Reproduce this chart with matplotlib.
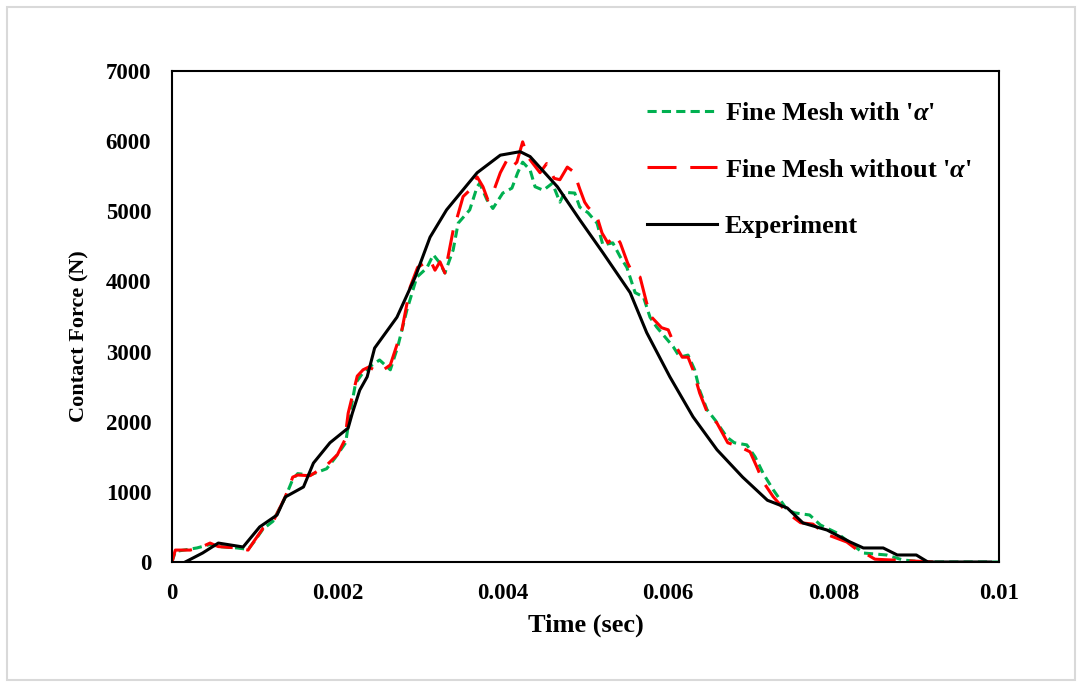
import matplotlib
matplotlib.use("Agg")
import matplotlib.pyplot as plt
from matplotlib.patches import Rectangle

# time (sec), contact force (N)
t_exp = [0.00016, 0.00037, 0.00056, 0.00086, 0.00106, 0.00127, 0.00137, 0.00159, 0.00171,
         0.00191, 0.00213, 0.00218, 0.00227, 0.00236, 0.00245, 0.00272, 0.00294, 0.00312,
         0.00332, 0.00369, 0.00397, 0.00421, 0.00433, 0.00466, 0.00493, 0.00521, 0.00554,
         0.00574, 0.00602, 0.0063, 0.00659, 0.0069, 0.0072, 0.00744, 0.00763, 0.00792,
         0.0082, 0.00836, 0.0086, 0.00877, 0.009, 0.00914, 0.0099]
f_exp = [0, 128, 270, 214, 500, 670, 927, 1070, 1410,
         1700, 1910, 2120, 2450, 2640, 3050, 3490, 4060, 4630,
         5020, 5550, 5800, 5850, 5780, 5350, 4880, 4410, 3840,
         3270, 2640, 2070, 1600, 1210, 880, 770, 556, 456,
         285, 200, 200, 100, 100, 0, 0]

t_no_alpha = [0, 0.00004, 0.00022, 0.00035, 0.00046, 0.00056, 0.00079, 0.00092, 0.001, 0.0011,
              0.00122, 0.00137, 0.00146, 0.00152, 0.00167, 0.00187, 0.002, 0.00209, 0.00213,
              0.00219, 0.00224, 0.00231, 0.00238, 0.00251, 0.00264, 0.00278, 0.00288, 0.00297,
              0.00312, 0.00318, 0.00324, 0.0033, 0.0034, 0.00345, 0.00352, 0.0036, 0.00369,
              0.00376, 0.00382, 0.00388, 0.00397, 0.00405, 0.00411, 0.00417, 0.00424, 0.0043,
              0.00445, 0.00453, 0.00462, 0.00469, 0.00478, 0.00486, 0.00493, 0.00499, 0.00503,
              0.00514, 0.0052, 0.00527, 0.00536, 0.00542, 0.00551, 0.00557, 0.00566, 0.00574,
              0.0058, 0.00592, 0.006, 0.00606, 0.00617, 0.00624, 0.0063, 0.00638, 0.00647,
              0.00659, 0.00672, 0.00687, 0.00699, 0.00707, 0.00715, 0.00727, 0.00744, 0.0076,
              0.00775, 0.0079, 0.00816, 0.00832, 0.0084, 0.0085, 0.0092]
f_no_alpha = [0, 170, 170, 210, 270, 220, 200, 170, 310, 480,
              570, 930, 1210, 1240, 1230, 1380, 1530, 1740, 2120,
              2410, 2650, 2740, 2780, 2700, 2810, 3310, 3920, 4200,
              4310, 4160, 4280, 4120, 4730, 4920, 5210, 5300, 5490,
              5350, 5160, 5260, 5550, 5730, 5630, 5700, 5990, 5780,
              5550, 5680, 5470, 5450, 5630, 5560, 5320, 5130, 5060,
              4920, 4690, 4550, 4660, 4550, 4260, 4120, 4060, 3690,
              3490, 3340, 3310, 3140, 2920, 2920, 2740, 2410, 2140,
              1980, 1700, 1640, 1570, 1360, 1140, 930, 700, 560,
              540, 400, 285, 143, 110, 40, 0]

t_alpha = [0, 0.00004, 0.0003, 0.00046, 0.00056, 0.00079, 0.00092, 0.001, 0.0011, 0.00122,
           0.00137, 0.00146, 0.00152, 0.00167, 0.00187, 0.00197, 0.0021, 0.00215, 0.00222,
           0.00231, 0.00241, 0.00251, 0.00264, 0.00273, 0.00284, 0.00296, 0.00308, 0.00316,
           0.00324, 0.0033, 0.0034, 0.00346, 0.0036, 0.00369, 0.00372, 0.00381, 0.00388,
           0.004, 0.00411, 0.00418, 0.00424, 0.00433, 0.00439, 0.00449, 0.0046, 0.00469,
           0.00475, 0.00487, 0.00493, 0.00503, 0.00514, 0.00521, 0.00533, 0.00542, 0.0055,
           0.0056, 0.0057, 0.00578, 0.00586, 0.00606, 0.00614, 0.00624, 0.00632, 0.00638,
           0.00647, 0.00657, 0.00671, 0.0068, 0.00695, 0.00705, 0.00715, 0.00727, 0.00744,
           0.00753, 0.00771, 0.00784, 0.00804, 0.0082, 0.00836, 0.00864, 0.00884, 0.0091, 0.01]
f_alpha = [0, 150, 200, 250, 220, 200, 180, 300, 470, 580,
           920, 1180, 1260, 1240, 1330, 1480, 1700, 2100, 2550,
           2700, 2800, 2880, 2740, 3070, 3590, 4060, 4190, 4380,
           4260, 4120, 4450, 4830, 5020, 5350, 5400, 5160, 5040,
           5260, 5330, 5550, 5700, 5590, 5350, 5300, 5400, 5130,
           5270, 5260, 5060, 4980, 4830, 4520, 4550, 4350, 4200,
           3840, 3780, 3490, 3350, 3070, 2920, 2950, 2740, 2450,
           2170, 2020, 1780, 1700, 1670, 1500, 1260, 1030, 740,
           700, 670, 528, 414, 270, 128, 100, 28, 0, 0]

x_ticks = [0, 0.002, 0.004, 0.006, 0.008, 0.01]
x_tick_labels = ["0", "0.002", "0.004", "0.006", "0.008", "0.01"]
y_ticks = [0, 1000, 2000, 3000, 4000, 5000, 6000, 7000]

plt.rcParams["font.family"] = ["Liberation Serif", "DejaVu Serif"]
plt.rcParams["font.weight"] = "bold"
plt.rcParams["mathtext.fontset"] = "custom"
plt.rcParams["mathtext.it"] = "Liberation Serif:italic:bold"
plt.rcParams["mathtext.rm"] = "Liberation Serif:bold"

fig = plt.figure(figsize=(10.81, 6.85), dpi=100)
fig.patches.append(Rectangle((7 / 1081, 5 / 685), 1068 / 1081, 673 / 685,
                             transform=fig.transFigure, fill=False,
                             edgecolor="#d9d9d9", lw=1.5))
ax = fig.add_axes([172 / 1081, 123 / 685, 827 / 1081, 491 / 685])

ax.plot(t_alpha, f_alpha, color="#00b050", lw=2.2, dashes=(3, 1.7),
        label=r"Fine Mesh with '$\alpha$'")
ax.plot(t_no_alpha, f_no_alpha, color="#ff0000", lw=2.2, dashes=(9.5, 4.5),
        label=r"Fine Mesh without '$\alpha$'")
ax.plot(t_exp, f_exp, color="black", lw=2.2, label="Experiment")

ax.set_xlim(0, 0.01)
ax.set_ylim(0, 7000)
ax.set_xticks(x_ticks)
ax.set_xticklabels(x_tick_labels)
ax.set_yticks(y_ticks)
ax.tick_params(length=0, labelsize=16.5)
ax.tick_params(axis="x", pad=15)
ax.tick_params(axis="y", pad=15)
for s in ax.spines.values():
    s.set_linewidth(1.5)

ax.set_xlabel("Time (sec)", fontsize=19, fontweight="bold", labelpad=7)
ax.set_ylabel("Contact Force (N)", fontsize=16, fontweight="bold")
ax.yaxis.set_label_coords(-0.100, 0.46)

ax.legend(loc="upper left", bbox_to_anchor=(623 / 1081, 1 - 78 / 685),
          bbox_transform=fig.transFigure, frameon=False, fontsize=19,
          handlelength=2.65, handletextpad=0.3, labelspacing=1.25)

fig.savefig("out.png", dpi=100)
